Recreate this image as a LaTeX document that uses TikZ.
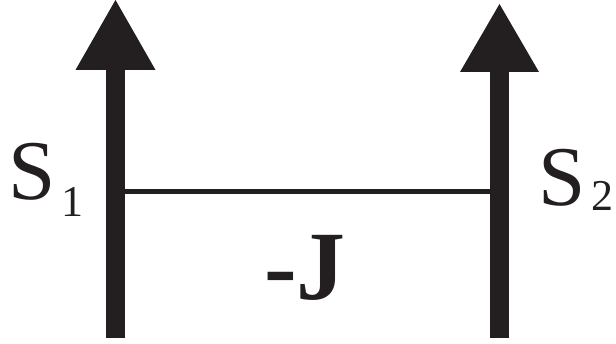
\documentclass[tikz,border=0pt]{standalone}
\usepackage{fontspec}
\setmainfont{Liberation Serif}
\definecolor{ink}{HTML}{231F20}
\tikzset{
  shaft/.style={ink, line width=18.6pt},
  head/.style={fill=ink, draw=none},
  bond/.style={ink, line width=5.5pt},
  lbl/.style={inner sep=0pt, anchor=base west, text=ink}
}
\begin{document}
\begin{tikzpicture}[x=1pt,y=-1pt]
\useasboundingbox (0,0) rectangle (616,344);
% left arrow
\coordinate (b1) at (115.5,338);
\coordinate (h1) at (115.5,68);
\draw[shaft] (b1) -- (h1);
\fill[head] (75.5,70) -- (115.5,0) -- (155.5,70) -- cycle;
% right arrow
\coordinate (b2) at (499.5,338);
\coordinate (h2) at (499.5,70);
\draw[shaft] (b2) -- (h2);
\fill[head] (460,72) -- (499.5,4) -- (539,72) -- cycle;
% bond
\coordinate (l1) at (124.8,191.5);
\coordinate (l2) at (490.2,191.5);
\draw[bond] (l1) -- (l2);
% labels
\node[lbl] (s1) at (8,200) {\fontsize{85}{85}\selectfont S\kern6pt\raisebox{-17pt}{\fontsize{44}{44}\selectfont 1}};
\node[lbl] (s2) at (538,206) {\fontsize{85}{85}\selectfont S\kern6pt\raisebox{-5pt}{\fontsize{44}{44}\selectfont 2}};
\node[lbl] (j) at (264,300) {\fontsize{98}{98}\selectfont\bfseries -J};
\end{tikzpicture}
\end{document}
